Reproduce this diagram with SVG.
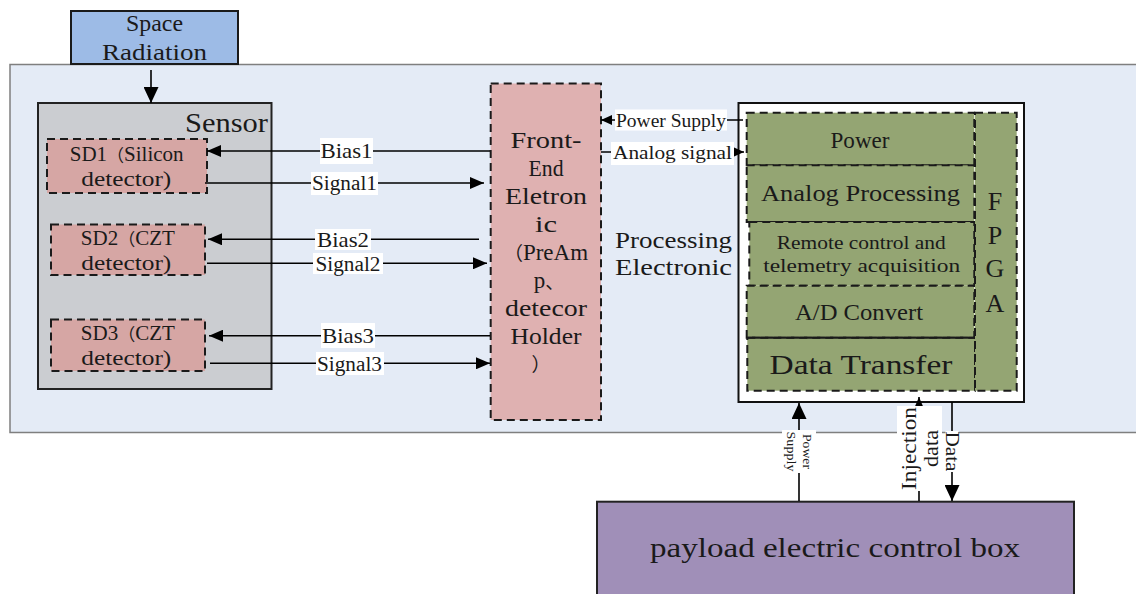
<svg xmlns="http://www.w3.org/2000/svg" width="1136" height="594" viewBox="0 0 1136 594">
<defs>
<marker id="ah" viewBox="0 0 14 12" refX="14" refY="6" markerWidth="14" markerHeight="12" orient="auto" markerUnits="userSpaceOnUse"><path d="M0,0 L14,6 L0,12z" fill="#000"/></marker>
<marker id="ahs" viewBox="0 0 11 10" refX="11" refY="5" markerWidth="11" markerHeight="10" orient="auto" markerUnits="userSpaceOnUse"><path d="M0,0 L11,5 L0,10z" fill="#000"/></marker>
<marker id="ahb" viewBox="0 0 16 15" refX="16" refY="7.5" markerWidth="16" markerHeight="15" orient="auto" markerUnits="userSpaceOnUse"><path d="M0,0 L16,7.5 L0,15z" fill="#000"/></marker>
</defs>
<style>
text{font-family:"Liberation Serif","Noto Sans CJK SC",serif;fill:#1a1a1a;text-anchor:middle;dominant-baseline:central}
.cjk{font-family:"Noto Sans CJK SC",sans-serif}
.lat{font-family:"Liberation Serif",serif}
.dash{stroke:#1a1a1a;stroke-width:2;stroke-dasharray:8 5}
.ln{stroke:#000;stroke-width:1.6;fill:none}
.lbl{fill:#fff}
.sd{fill:#d6a6a4}
.gr{fill:#94a573}
</style>
<rect width="1136" height="594" fill="#fff"/>
<g id="panel"><rect x="10" y="64.5" width="1140" height="368" fill="#e4ebf6" stroke="#7f7f7f" stroke-width="1.5"/></g>
<g id="space-radiation">
<rect x="71" y="11" width="167" height="53" fill="#9dbbe6" stroke="#1a1a1a" stroke-width="2"/>
<text x="154.5" y="23" font-size="24" textLength="57" lengthAdjust="spacingAndGlyphs">Space</text>
<text x="154.5" y="52" font-size="24" textLength="105" lengthAdjust="spacingAndGlyphs">Radiation</text>
</g>
<g id="sensor">
<rect x="38" y="103" width="233.5" height="286" fill="#cbcdd1" stroke="#222" stroke-width="2"/>
<text x="268" y="122.5" font-size="27" textLength="83" lengthAdjust="spacingAndGlyphs" style="text-anchor:end">Sensor</text>
</g>
<g id="sd1">
<rect x="47" y="139" width="160" height="54" class="sd dash"/>
<text x="126.7" y="154" font-size="21"><tspan class="lat">SD1</tspan><tspan class="cjk" font-size="17">（</tspan><tspan class="lat">Silicon</tspan></text>
<text x="126.3" y="179" font-size="21" textLength="90" lengthAdjust="spacingAndGlyphs">detector)</text>
</g>
<g id="sd2">
<rect x="51" y="224.5" width="154" height="50.5" class="sd dash"/>
<text x="127.8" y="238" font-size="21"><tspan class="lat">SD2</tspan><tspan class="cjk" font-size="17">（</tspan><tspan class="lat">CZT</tspan></text>
<text x="126.3" y="263" font-size="21" textLength="90" lengthAdjust="spacingAndGlyphs">detector)</text>
</g>
<g id="sd3">
<rect x="51" y="319.5" width="154" height="51.5" class="sd dash"/>
<text x="127.8" y="333" font-size="21"><tspan class="lat">SD3</tspan><tspan class="cjk" font-size="17">（</tspan><tspan class="lat">CZT</tspan></text>
<text x="126.3" y="358" font-size="21" textLength="90" lengthAdjust="spacingAndGlyphs">detector)</text>
</g>
<g id="front-end">
<rect x="490.7" y="83.5" width="110.3" height="336.5" fill="#dfb1b1" class="dash"/>
<text x="546" y="140" font-size="23" textLength="71" lengthAdjust="spacingAndGlyphs">Front-</text>
<text x="546" y="168" font-size="23" textLength="35" lengthAdjust="spacingAndGlyphs">End</text>
<text x="546" y="196" font-size="23" textLength="82" lengthAdjust="spacingAndGlyphs">Eletron</text>
<text x="546" y="224" font-size="23" textLength="22" lengthAdjust="spacingAndGlyphs">ic</text>
<text x="546" y="252" font-size="23"><tspan class="cjk" font-size="19">（</tspan><tspan class="lat">PreAm</tspan></text>
<text x="549" y="280" font-size="23"><tspan class="lat">p</tspan><tspan class="cjk" font-size="19">、</tspan></text>
<text x="546" y="308" font-size="23" textLength="82" lengthAdjust="spacingAndGlyphs">detecor</text>
<text x="546" y="336" font-size="23" textLength="71" lengthAdjust="spacingAndGlyphs">Holder</text>
<text x="541" y="363" font-size="19" class="cjk">）</text>
</g>
<g id="processing-label">
<text x="673.5" y="240" font-size="23" textLength="117" lengthAdjust="spacingAndGlyphs">Processing</text>
<text x="673.5" y="267" font-size="23" textLength="117" lengthAdjust="spacingAndGlyphs">Electronic</text>
</g>
<g id="processing">
<rect x="738.5" y="103" width="285.5" height="299" fill="#fff" stroke="#111" stroke-width="2"/>
</g>
<g id="power"><rect x="746.7" y="112.7" width="227.6" height="52.6" class="gr dash"/><text x="860" y="140" font-size="24" textLength="59" lengthAdjust="spacingAndGlyphs">Power</text></g>
<g id="analog-processing"><rect x="746.7" y="165.3" width="227.6" height="56.7" class="gr dash"/><text x="860.5" y="193" font-size="24" textLength="199" lengthAdjust="spacingAndGlyphs">Analog Processing</text></g>
<g id="remote-control"><rect x="749.3" y="222" width="225" height="63.7" class="gr dash"/><text x="861.3" y="242" font-size="19" textLength="169" lengthAdjust="spacingAndGlyphs">Remote control and</text><text x="861.7" y="265" font-size="19" textLength="197" lengthAdjust="spacingAndGlyphs">telemetry acquisition</text></g>
<g id="ad-convert"><rect x="746.7" y="285.7" width="227.6" height="52" class="gr dash"/><text x="859" y="311.7" font-size="24" textLength="128" lengthAdjust="spacingAndGlyphs">A/D Convert</text></g>
<g id="data-transfer"><rect x="747.3" y="337.7" width="227.7" height="53" class="gr dash"/><line x1="747.3" y1="337.7" x2="975" y2="337.7" stroke="#1a1a1a" stroke-width="2"/><text x="861" y="364.3" font-size="28" textLength="183" lengthAdjust="spacingAndGlyphs">Data Transfer</text></g>
<g id="fpga"><rect x="975" y="112.7" width="41.7" height="278" class="gr dash"/>
<text x="995" y="201" font-size="26">F</text><text x="995" y="235" font-size="26">P</text><text x="995" y="268" font-size="26">G</text><text x="995" y="303" font-size="26">A</text></g>
<g id="control-box">
<rect x="597" y="501.7" width="477" height="120" fill="#a08fb8" stroke="#222" stroke-width="2"/>
<text x="835" y="548" font-size="27" textLength="370" lengthAdjust="spacingAndGlyphs">payload electric control box</text>
</g>
<g id="connectors">
<line class="ln" x1="151" y1="70" x2="151" y2="103" marker-end="url(#ahb)"/>
<line class="ln" x1="490" y1="151" x2="207" y2="151" marker-end="url(#ah)"/>
<line class="ln" x1="205" y1="183" x2="484" y2="183" marker-end="url(#ah)"/>
<line class="ln" x1="479" y1="239.3" x2="208" y2="239.3" marker-end="url(#ah)"/>
<line class="ln" x1="207" y1="263.3" x2="487" y2="263.3" marker-end="url(#ah)"/>
<line class="ln" x1="490" y1="335.7" x2="209" y2="335.7" marker-end="url(#ah)"/>
<line class="ln" x1="210" y1="363.3" x2="490" y2="363.3" marker-end="url(#ah)"/>
<line class="ln" x1="743" y1="120" x2="601" y2="120" marker-end="url(#ahs)"/>
<line class="ln" x1="601" y1="152" x2="744" y2="152" marker-end="url(#ahs)"/>
<line class="ln" x1="799" y1="501" x2="799" y2="403" marker-end="url(#ahb)"/>
<line class="ln" x1="919" y1="501" x2="919" y2="397" marker-end="url(#ah)"/>
<line class="ln" x1="952" y1="402" x2="952" y2="501" marker-end="url(#ahb)"/>
<rect class="lbl" x="320" y="138" width="53" height="26"/><text x="346.5" y="151" font-size="21" textLength="52" lengthAdjust="spacingAndGlyphs">Bias1</text>
<rect class="lbl" x="311" y="172" width="67" height="23"/><text x="344.5" y="183" font-size="20" textLength="65" lengthAdjust="spacingAndGlyphs">Signal1</text>
<rect class="lbl" x="315" y="229" width="56" height="21"/><text x="343" y="239.5" font-size="21" textLength="52" lengthAdjust="spacingAndGlyphs">Bias2</text>
<rect class="lbl" x="313" y="253" width="70" height="21"/><text x="348" y="263.5" font-size="20" textLength="65" lengthAdjust="spacingAndGlyphs">Signal2</text>
<rect class="lbl" x="321" y="323" width="54" height="25"/><text x="348" y="336" font-size="21" textLength="52" lengthAdjust="spacingAndGlyphs">Bias3</text>
<rect class="lbl" x="316" y="352" width="68" height="23"/><text x="349.5" y="363.5" font-size="20" textLength="65" lengthAdjust="spacingAndGlyphs">Signal3</text>
<rect class="lbl" x="615" y="109.5" width="112" height="21"/><text x="671" y="120" font-size="19" textLength="110" lengthAdjust="spacingAndGlyphs">Power Supply</text>
<rect class="lbl" x="611" y="142" width="123" height="23"/><text x="672.5" y="152" font-size="19" textLength="119" lengthAdjust="spacingAndGlyphs">Analog signal</text>
<rect class="lbl" x="782" y="430" width="34" height="43"/>
<g transform="translate(799,451.5) rotate(90)"><text x="0" y="-8" font-size="13" textLength="35" lengthAdjust="spacingAndGlyphs">Power</text><text x="0" y="8" font-size="13" textLength="40" lengthAdjust="spacingAndGlyphs">Supply</text></g>
<rect class="lbl" x="897" y="406" width="45" height="85"/>
<g transform="translate(919.5,448.5) rotate(-90)"><text x="0" y="-11" font-size="21" textLength="83" lengthAdjust="spacingAndGlyphs">Injection</text><text x="0" y="11" font-size="21" textLength="37" lengthAdjust="spacingAndGlyphs">data</text></g>
<rect class="lbl" x="945.5" y="431" width="13" height="41"/>
<g transform="translate(952,451.5) rotate(90)"><text x="0" y="0" font-size="18" textLength="40" lengthAdjust="spacingAndGlyphs">Data</text></g>
</g>
</svg>
